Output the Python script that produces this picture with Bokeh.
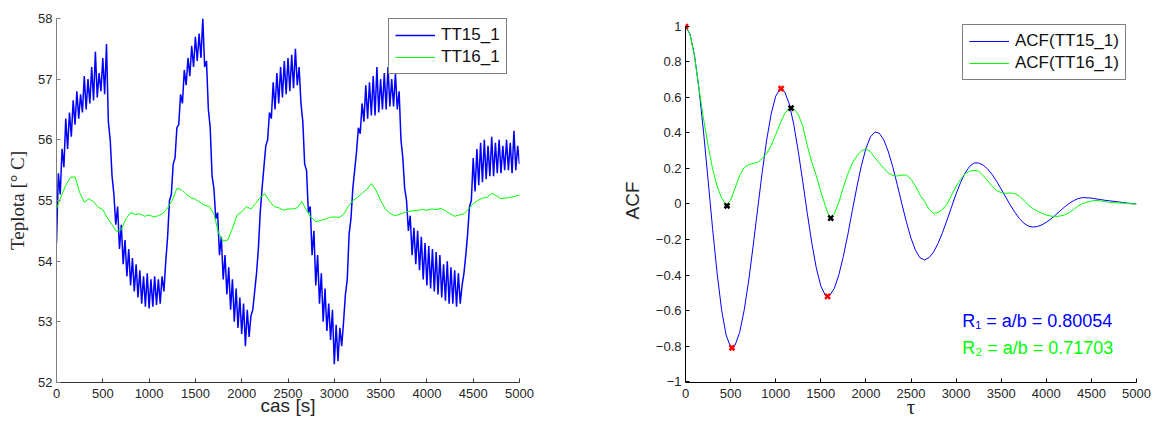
import numpy as np
from bokeh.plotting import figure
from bokeh.layouts import row
from bokeh.models import (Legend, LegendItem, Label, FixedTicker,
                          CustomJSTickFormatter, Range1d)
from bokeh.embed import file_html
from bokeh.resources import INLINE

# ---------------- data: left panel (temperature records) ----------------
time_tt15 = list(range(0, 5001, 20))          # sampling instants [s]
tt15_1 = [
    54.30, 55.45, 55.10, 55.85, 55.55, 56.35, 55.85, 56.45, 56.05, 56.65,
    56.25, 56.80, 56.35, 56.75, 56.45, 57.05, 56.50, 57.00, 56.60, 57.20,
    56.65, 57.45, 56.70, 57.10, 56.80, 57.35, 56.75, 57.58, 56.30, 56.00,
    55.40, 55.10, 54.60, 54.90, 54.20, 54.60, 53.95, 54.35, 53.75, 54.20,
    53.60, 54.05, 53.50, 53.95, 53.40, 53.85, 53.30, 53.75, 53.25, 53.80,
    53.22, 53.70, 53.25, 53.75, 53.28, 53.70, 53.30, 53.75, 53.50, 54.00,
    54.40, 55.00, 55.10, 55.60, 55.70, 56.20, 56.25, 56.75, 56.60, 57.15,
    56.90, 57.35, 57.05, 57.55, 57.20, 57.70, 57.30, 57.75, 57.35, 58.00,
    57.20, 57.30, 56.50, 56.20, 55.40, 55.20, 54.70, 54.80, 54.10, 54.40,
    53.70, 54.10, 53.45, 53.90, 53.20, 53.70, 53.00, 53.55, 52.90, 53.40,
    52.80, 53.30, 52.60, 53.20, 52.75, 53.10, 53.20, 53.50, 53.80, 54.20,
    54.80, 55.20, 55.55, 55.90, 56.00, 56.45, 56.35, 56.95, 56.50, 57.10,
    56.60, 57.20, 56.70, 57.30, 56.75, 57.35, 56.80, 57.40, 56.85, 57.50,
    56.90, 57.20, 56.60, 56.30, 55.60, 55.50, 54.80, 54.90, 54.10, 54.50,
    53.60, 54.10, 53.30, 53.80, 53.00, 53.55, 52.85, 53.30, 52.70, 53.20,
    52.30, 52.95, 52.35, 52.90, 52.60, 53.00, 53.45, 53.70, 54.45, 54.70,
    55.20, 55.50, 55.80, 56.20, 56.10, 56.60, 56.30, 56.90, 56.35, 56.95,
    56.40, 57.05, 56.40, 57.20, 56.45, 57.00, 56.50, 57.10, 56.50, 57.20,
    56.55, 57.00, 56.55, 57.10, 56.50, 56.80, 56.00, 55.70, 55.20, 55.00,
    54.50, 54.75, 54.10, 54.55, 53.95, 54.50, 53.85, 54.40, 53.70, 54.30,
    53.60, 54.25, 53.55, 54.20, 53.50, 54.15, 53.45, 54.10, 53.40, 53.95,
    53.35, 54.00, 53.30, 53.90, 53.30, 53.85, 53.25, 53.80, 53.30, 53.60,
    53.80, 54.10, 54.45, 54.90, 55.00, 55.70, 55.15, 55.85, 55.25, 55.95,
    55.30, 56.00, 55.35, 55.90, 55.40, 56.05, 55.40, 55.95, 55.45, 56.00,
    55.45, 55.90, 55.50, 56.00, 55.50, 55.95, 55.45, 56.15, 55.50, 55.90,
    55.60]

time_tt16 = list(range(0, 5001, 50))
tt16_1 = [
    54.86, 55.07, 55.25, 55.38, 55.39, 55.13, 54.97, 55.03, 54.98, 54.89,
    54.85, 54.71, 54.60, 54.49, 54.52, 54.70, 54.80, 54.77, 54.78, 54.74,
    54.76, 54.73, 54.75, 54.79, 54.88, 55.00, 55.20, 55.18, 55.10, 55.05,
    55.02, 54.97, 54.92, 54.90, 54.78, 54.46, 54.33, 54.35, 54.54, 54.76,
    54.81, 54.90, 54.86, 54.95, 55.05, 55.11, 54.99, 54.90, 54.88, 54.84,
    54.86, 54.86, 54.88, 54.98, 54.84, 54.72, 54.65, 54.67, 54.69, 54.72,
    54.73, 54.72, 54.77, 54.90, 55.00, 55.05, 55.12, 55.18, 55.28, 55.17,
    55.00, 54.86, 54.79, 54.75, 54.77, 54.80, 54.82, 54.83, 54.84, 54.85,
    54.84, 54.86, 54.85, 54.87, 54.83, 54.78, 54.74, 54.76, 54.78, 54.86,
    54.95, 55.00, 55.04, 55.05, 55.12, 55.08, 55.03, 55.04, 55.05, 55.07,
    55.09]

# ---------------- data: right panel (autocorrelation) ----------------
lag = list(range(0, 5001, 50))
acf_tt15 = [
    1.000, 0.958, 0.837, 0.647, 0.406, 0.137, -0.137, -0.388, -0.596, -0.738,
    -0.806, -0.795, -0.724, -0.600, -0.434, -0.236, -0.027, 0.177, 0.361, 0.508,
    0.607, 0.649, 0.632, 0.564, 0.449, 0.297, 0.126, -0.052, -0.219, -0.360,
    -0.462, -0.514, -0.514, -0.475, -0.399, -0.295, -0.171, -0.036, 0.096, 0.216,
    0.312, 0.378, 0.406, 0.398, 0.359, 0.293, 0.205, 0.104, -0.002, -0.103,
    -0.193, -0.261, -0.303, -0.315, -0.302, -0.271, -0.222, -0.160, -0.090, -0.016,
    0.057, 0.122, 0.175, 0.212, 0.231, 0.231, 0.219, 0.197, 0.166, 0.127,
    0.084, 0.039, -0.005, -0.046, -0.081, -0.108, -0.124, -0.130, -0.127, -0.118,
    -0.103, -0.085, -0.063, -0.040, -0.018, 0.002, 0.018, 0.030, 0.036, 0.035,
    0.033, 0.029, 0.025, 0.021, 0.018, 0.015, 0.012, 0.008, 0.005, 0.002,
    0.000]
acf_tt16 = [
    1.000, 0.955, 0.830, 0.650, 0.480, 0.330, 0.200, 0.100, 0.035, -0.006,
    0.020, 0.090, 0.160, 0.205, 0.222, 0.228, 0.235, 0.255, 0.285, 0.330,
    0.390, 0.455, 0.510, 0.540, 0.535, 0.505, 0.440, 0.330, 0.235, 0.160,
    0.070, -0.010, -0.080, -0.055, 0.010, 0.095, 0.170, 0.230, 0.270, 0.300,
    0.310, 0.295, 0.260, 0.230, 0.200, 0.175, 0.160, 0.158, 0.163, 0.163,
    0.140, 0.100, 0.050, 0.015, -0.030, -0.052, -0.048, -0.030, 0.000, 0.050,
    0.100, 0.140, 0.170, 0.185, 0.190, 0.185, 0.160, 0.130, 0.100, 0.075,
    0.064, 0.060, 0.062, 0.058, 0.045, 0.020, -0.005, -0.025, -0.040, -0.052,
    -0.062, -0.068, -0.070, -0.068, -0.062, -0.050, -0.032, -0.012, 0.002, 0.010,
    0.017, 0.020, 0.018, 0.013, 0.010, 0.008, 0.006, 0.005, 0.003, 0.001,
    0.000]

extrema_a_lag = [0, 515, 1060, 1575]
extrema_a_acf = [1.0, -0.81, 0.65, -0.52]
extrema_b_lag = [460, 1170, 1610]
extrema_b_acf = [-0.01, 0.54, -0.08]

time_ticks = [0, 500, 1000, 1500, 2000, 2500, 3000, 3500, 4000, 4500, 5000]
temp_ticks = [52, 53, 54, 55, 56, 57, 58]
acf_ticks = [-1, -0.8, -0.6, -0.4, -0.2, 0, 0.2, 0.4, 0.6, 0.8, 1]

r1_text = "R\u2081 = a/b = 0.80054"
r2_text = "R\u2082 = a/b = 0.71703"

SANS = "Liberation Sans"
SERIF = "Liberation Serif"
TXT = "#262626"


def style_axes(p, ycolor, xcolor):
    for ax in p.axis:
        ax.major_tick_in = 4
        ax.major_tick_out = 0
        ax.minor_tick_in = 0
        ax.minor_tick_out = 0
        ax.major_label_text_font = SANS
        ax.major_label_text_font_size = "13px"
        ax.major_label_text_color = TXT
        ax.axis_label_text_font_style = "normal"
        ax.axis_label_text_color = TXT
    p.xaxis.major_label_standoff = 6
    p.yaxis.major_label_standoff = 4
    p.xaxis.axis_label_standoff = -6
    p.yaxis.axis_line_color = ycolor
    p.yaxis.major_tick_line_color = ycolor
    p.xaxis.axis_line_color = xcolor
    p.xaxis.major_tick_line_color = xcolor
    p.xgrid.grid_line_color = None
    p.ygrid.grid_line_color = None
    p.outline_line_color = None


def make_legend(items, loc):
    lg = Legend(items=items, location=loc)
    lg.border_line_color = "black"
    lg.border_line_width = 1
    lg.background_fill_color = "white"
    lg.background_fill_alpha = 1
    lg.label_text_font = SANS
    lg.label_text_font_size = "17px"
    lg.label_text_color = "#111111"
    lg.glyph_width = 40
    lg.glyph_height = 18
    lg.label_height = 18
    lg.label_standoff = 6
    lg.spacing = 2
    lg.padding = 6
    lg.margin = 0
    return lg


# ---------------- left figure ----------------
p1 = figure(width=600, height=421, x_range=Range1d(0, 5000), y_range=Range1d(52, 58),
            output_backend="svg", toolbar_location=None,
            min_border_left=56, min_border_right=81, min_border_top=18, min_border_bottom=39)
p1.background_fill_color = "white"
p1.border_fill_color = "white"

r_tt15 = p1.line(time_tt15, tt15_1, line_color="#0000ff", line_width=1.5)
r_tt16 = p1.line(time_tt16, tt16_1, line_color="#00ff00", line_width=1)

p1.xaxis.ticker = FixedTicker(ticks=time_ticks)
p1.yaxis.ticker = FixedTicker(ticks=temp_ticks)
p1.yaxis.axis_label = "Teplota [\u00b0 C]"
p1.yaxis.axis_label_text_font = SERIF
p1.yaxis.axis_label_text_font_size = "19px"
p1.yaxis.axis_label_standoff = 7
p1.xaxis.axis_label = "cas [s]"
p1.xaxis.axis_label_text_font = SANS
p1.xaxis.axis_label_text_font_size = "19px"
style_axes(p1, "#808080", "#333333")

p1.add_layout(make_legend([LegendItem(label="TT15_1", renderers=[r_tt15]),
                           LegendItem(label="TT16_1", renderers=[r_tt16])], (332, 308)))

# ---------------- right figure ----------------
p2 = figure(width=560, height=421, x_range=Range1d(0, 5000), y_range=Range1d(-1.0056, 1.045),
            output_backend="svg", toolbar_location=None,
            min_border_left=85, min_border_right=24, min_border_top=18, min_border_bottom=39)
p2.background_fill_color = "white"
p2.border_fill_color = "white"

r_a15 = p2.line(lag, acf_tt15, line_color="#0000ff", line_width=1)
r_a16 = p2.line(lag, acf_tt16, line_color="#00ff00", line_width=1)
p2.scatter(extrema_a_lag, extrema_a_acf, marker="x", size=7, line_width=2.5, line_color="#ff0000")
p2.scatter(extrema_b_lag, extrema_b_acf, marker="x", size=7, line_width=2.5, line_color="#000000")

p2.xaxis.ticker = FixedTicker(ticks=time_ticks)
p2.yaxis.ticker = FixedTicker(ticks=acf_ticks)
p2.yaxis.bounds = (-1, 1)
p2.yaxis.formatter = CustomJSTickFormatter(code="""
const a = Math.abs(tick);
if (a < 1e-9) return '0';
let s = (Math.abs(a - Math.round(a)) < 1e-9) ? String(Math.round(a)) : a.toFixed(1);
return (tick < 0 ? '\u2212' : '') + s;
""")
p2.yaxis.axis_label = "ACF"
p2.yaxis.axis_label_text_font = SANS
p2.yaxis.axis_label_text_font_size = "19px"
p2.yaxis.axis_label_standoff = 10
p2.xaxis.axis_label = "\u03c4"
p2.xaxis.axis_label_text_font = SERIF
p2.xaxis.axis_label_text_font_size = "21px"
style_axes(p2, "#000000", "#000000")

p2.add_layout(make_legend([LegendItem(label="ACF(TT15_1)", renderers=[r_a15]),
                           LegendItem(label="ACF(TT16_1)", renderers=[r_a16])], (277, 302)))

p2.add_layout(Label(x=3067, y=-0.66, text=r1_text, text_color="#0000ff",
                    text_font=SANS, text_font_size="18px", text_baseline="alphabetic"))
p2.add_layout(Label(x=3067, y=-0.81, text=r2_text, text_color="#00ff00",
                    text_font=SANS, text_font_size="18px", text_baseline="alphabetic"))

layout = row(p1, p2)
open("out.html", "w").write(file_html(layout, INLINE))
